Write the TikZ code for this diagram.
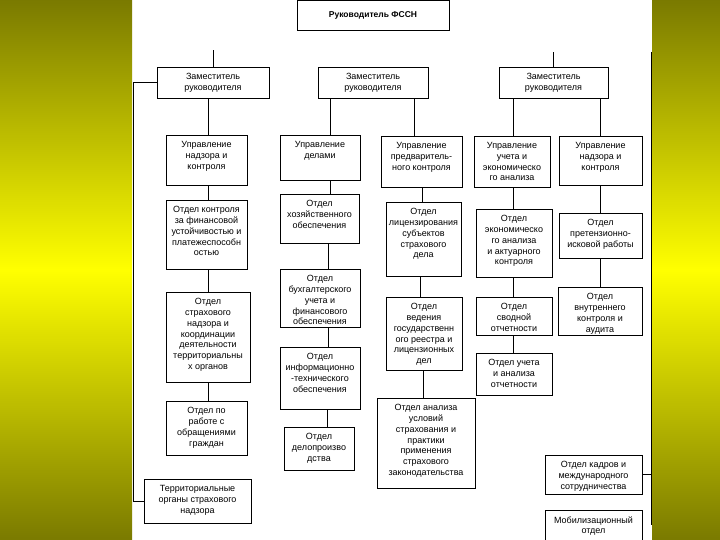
\documentclass[tikz,border=0pt]{standalone}
\usepackage{fontspec}
\setmainfont{Liberation Sans}
\usetikzlibrary{fit}
\definecolor{oliv}{RGB}{122,122,0}
\definecolor{brightyel}{RGB}{255,255,0}
\newcommand\obox[6]{%
  \coordinate (#1-nw) at (#2,#3);
  \coordinate (#1-se) at (#4,#5);
  \node[box, fit=(#1-nw)(#1-se)] (#1) {};
  \node[txt, anchor=north] (#1-t) at ([yshift=-6.5pt]#1.north) {#6};
}
\newcommand\vlink[3]{%
  \coordinate (#2-in) at ([xshift=#3pt]#2.north);
  \draw[link] (#2-in) -- (#2-in |- #1.south);
}
\begin{document}
\begin{tikzpicture}[x=1pt,y=-1pt,
  box/.style={draw=black, line width=0.75pt, inner sep=0pt},
  txt/.style={font=\fontsize{9}{10.8}\selectfont, align=center, inner sep=0pt},
  link/.style={draw=black, line width=0.75pt}]
\useasboundingbox (0,0) rectangle (720,540);
\fill[white] (0,0) rectangle (720,540);
\shade[top color=oliv, bottom color=oliv, middle color=brightyel] (0,0) rectangle (132,540);
\shade[top color=oliv, bottom color=oliv, middle color=brightyel] (652,0) rectangle (720,540);

% head
\coordinate (top-nw) at (297,0.5);
\coordinate (top-se) at (449,30);
\node[box, fit=(top-nw)(top-se)] (top) {};
\node[txt, font=\fontsize{8.5}{10}\selectfont\bfseries] (top-t) at (top.center) {Руководитель ФССН};

% deputies
\obox{d1}{157}{67}{269}{98}{Заместитель\\руководителя}
\obox{d2}{318}{67}{428}{98}{Заместитель\\руководителя}
\obox{d3}{499}{67}{608}{98}{Заместитель\\руководителя}

% directorates
\obox{u1}{166}{135}{247}{185}{Управление\\надзора и\\контроля}
\obox{u2}{280}{135}{360}{180}{Управление\\делами}
\obox{u3}{381}{136}{462}{187}{Управление\\предваритель-\\ного контроля}
\obox{u4}{474}{136}{550}{187}{Управление\\учета и\\экономическо\\го анализа}
\obox{u5}{559}{136}{642}{185}{Управление\\надзора и\\контроля}

% column 1
\obox{a1}{166}{200}{247}{269}{Отдел контроля\\за финансовой\\устойчивостью и\\платежеспособн\\остью}
\obox{a2}{166}{292}{250}{382}{Отдел\\страхового\\надзора и\\координации\\деятельности\\территориальны\\х органов}
\obox{a3}{166}{401}{247}{455}{Отдел по\\работе с\\обращениями\\граждан}
\obox{a4}{144}{479}{251}{523}{Территориальные\\органы страхового\\надзора}

% column 2
\obox{b1}{280}{194}{359}{243}{Отдел\\хозяйственного\\обеспечения}
\obox{b2}{280}{269}{360}{327}{Отдел\\бухгалтерского\\учета и\\финансового\\обеспечения}
\obox{b3}{280}{347}{360}{409}{Отдел\\информационно\\-технического\\обеспечения}
\obox{b4}{284}{427}{354}{470}{Отдел\\делопроизво\\дства}

% column 3
\obox{c1}{386}{202}{461}{276}{Отдел\\лицензирования\\субъектов\\страхового\\дела}
\obox{c2}{386}{297}{462}{370}{Отдел\\ведения\\государственн\\ого реестра и\\лицензионных\\дел}
\obox{c3}{377}{398}{475}{488}{Отдел анализа\\условий\\страхования и\\практики\\применения\\страхового\\законодательства}

% column 4
\obox{e1}{476}{209}{552}{277}{Отдел\\экономическо\\го анализа\\и актуарного\\контроля}
\obox{e2}{476}{297}{552}{335}{Отдел\\сводной\\отчетности}
\obox{e3}{476}{353}{552}{395}{Отдел учета\\и анализа\\отчетности}

% column 5
\obox{g1}{559}{213}{642}{258}{Отдел\\претензионно-\\исковой работы}
\obox{g2}{558}{287}{642}{335}{Отдел\\внутреннего\\контроля и\\аудита}
\obox{g3}{545}{455}{642}{494}{Отдел кадров и\\международного\\сотрудничества}
\obox{g4}{545}{510}{642}{542}{Мобилизационный\\отдел}

% stubs above deputies
\coordinate (d1stub) at (213,50);
\coordinate (d3stub) at (553.5,52);
\draw[link] (d1.north) -- (d1stub);
\draw[link] (d3.north) -- (d3stub);

% vertical links
\vlink{d1}{u1}{1.5}
\vlink{u1}{a1}{1.5}
\vlink{a1}{a2}{0}
\vlink{a2}{a3}{1.5}

\vlink{d2}{u2}{10}
\vlink{d2}{u3}{-7.5}
\vlink{u2}{b1}{10.5}
\vlink{b1}{b2}{8}
\vlink{b2}{b3}{8}
\vlink{b3}{b4}{8}
\vlink{u3}{c1}{-1.5}
\vlink{c1}{c2}{-4}
\vlink{c2}{c3}{-3}

\vlink{d3}{u4}{1}
\vlink{d3}{u5}{-0.5}
\vlink{u4}{e1}{-1}
\vlink{e1}{e2}{-1}
\vlink{e2}{e3}{-1}
\vlink{u5}{g1}{-0.5}
\vlink{g1}{g2}{0}

% left bus to territorial bodies
\coordinate (lbus) at (133,0);
\draw[link] (d1.west) -- (d1.west -| lbus) -- (a4.west -| lbus) -- (a4.west);

% right bus
\coordinate (rtop) at (651,52);
\coordinate (rbot) at (651,525);
\draw[link] (rtop) -- (rbot);
\draw[link] (g3.east) -- (g3.east -| rtop);
\end{tikzpicture}
\end{document}
